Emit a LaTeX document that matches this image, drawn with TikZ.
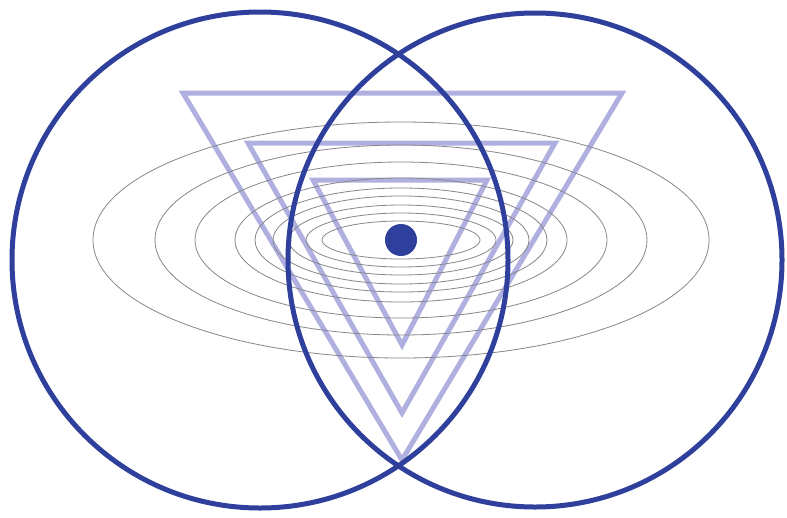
\documentclass[tikz,border=0pt]{standalone}
\usetikzlibrary{positioning}
\definecolor{ringblue}{RGB}{46,64,156}
\definecolor{lavender}{RGB}{176,176,224}
\definecolor{orbitgray}{RGB}{135,135,140}

\begin{document}
\begin{tikzpicture}[x=1pt, y=-1pt,
  ring/.style={draw=ringblue, line width=5pt},
  tri/.style={draw=lavender, line width=5pt, line join=miter},
  orbit/.style={draw=orbitgray, line width=0.8pt}
]
\useasboundingbox (0,0) rectangle (787,517);
\fill[white] (0,0) rectangle (787,517);

%% centres
\coordinate (eye) at (401,240);
\coordinate (lc) at (260,260);
\coordinate (rc) at (535,260);

%% nested triangles
\draw[tri] (183,93) -- (622,93) -- (402,460) -- cycle;
\draw[tri] (248,143) -- (555,143) -- (402,413) -- cycle;
\draw[tri] (313,180) -- (487,180) -- (402,345) -- cycle;

%% orbits round the eye
\foreach \a/\b in {79/19, 95/27, 112/35, 128/44, 146/52, 166/62, 206/78, 246/95, 308/118}
  \draw[orbit] (eye) ellipse[x radius=\a pt, y radius=\b pt];

%% the two rings
\draw[ring] (lc) circle[radius=248pt];
\draw[ring] (rc) circle[radius=247pt];

\fill[ringblue] (eye) circle[radius=16pt];
\end{tikzpicture}
\end{document}
